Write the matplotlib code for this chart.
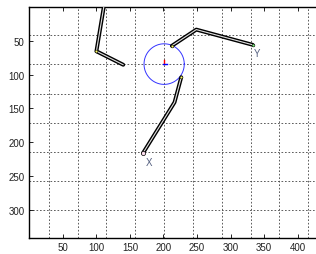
import matplotlib
matplotlib.use('Agg')
import matplotlib.pyplot as plt
import numpy as np

# stick chains (image coords, y down)
arm_left_x = [111, 100, 140]
arm_left_y = [0, 65.5, 85.5]
chain_y_x = [212.5, 249, 333]
chain_y_y = [57.5, 33.5, 56]
chain_x_x = [226.5, 216.5, 169.5]
chain_x_y = [104, 141, 216]

circle_cx = 201
circle_cy = 84.5
circle_r = 30

label_x = ['X', 178, 229]
label_y = ['Y', 340, 68]

xticks = [50, 100, 150, 200, 250, 300, 350, 400]
yticks = [50, 100, 150, 200, 250, 300]
xgrid = [29, 72, 115, 158, 201, 244, 287, 330, 373, 416]
ygrid = [42, 85, 128, 171, 214, 257, 300]

plt.rcParams['font.family'] = 'Liberation Sans'
fig = plt.figure(figsize=(3.16, 2.55), dpi=100)
# axes run past the right edge, as in the original crop
ax = fig.add_axes([0.0908, 0.0616, 0.94, 0.906])

for g in xgrid:
    ax.axvline(g, color='#444444', lw=0.6, ls=(0, (2, 2.2)), zorder=1)
for g in ygrid:
    ax.axhline(g, color='#444444', lw=0.6, ls=(0, (2, 2.2)), zorder=1)

t = np.linspace(0, 2*np.pi, 200)
ax.plot(circle_cx + circle_r*np.cos(t), circle_cy + circle_r*np.sin(t), color='#3333ff', lw=0.7, zorder=2)
ax.plot([circle_cx, circle_cx], [circle_cy, circle_cy - 6], color='red', lw=1.0, zorder=3)
ax.plot([circle_cx - 2, circle_cx + 4], [circle_cy, circle_cy], color='blue', lw=1.0, zorder=3)

for xs, ys in [(arm_left_x, arm_left_y), (chain_y_x, chain_y_y), (chain_x_x, chain_x_y)]:
    ax.plot(xs, ys, color='black', lw=2.8, solid_capstyle='round', solid_joinstyle='round', zorder=4)
    ax.plot(xs, ys, color='#e0e0e0', lw=0.8, solid_capstyle='round', zorder=5)

ax.plot(chain_x_x[-1], chain_x_y[-1], 'o', ms=3, mfc='#ffe0f0', mec='black', mew=0.5, zorder=6)
ax.plot(chain_y_x[-1], chain_y_y[-1], 'o', ms=2, mfc='#80ff80', mec='black', mew=0.4, zorder=6)
ax.plot(chain_y_x[0], chain_y_y[0], 'o', ms=2, mfc='#ffff60', mec='black', mew=0.4, zorder=6)
ax.plot(chain_x_x[0], chain_x_y[0], 'o', ms=2, mfc='#ffff60', mec='black', mew=0.4, zorder=6)
ax.plot(arm_left_x[1], arm_left_y[1], 'o', ms=2, mfc='#ffff60', mec='black', mew=0.4, zorder=6)

for lab in [label_x, label_y]:
    ax.text(lab[1], lab[2], lab[0], color='#556080', fontsize=7, ha='center', va='center')

ax.set_xlim(-1, 442)
ax.set_ylim(342, 0.5)
ax.set_xticks(xticks)
ax.set_yticks(yticks)
ax.tick_params(direction='in', length=3, width=0.6, labelsize=7, top=True, right=True, pad=3,
               labelcolor='#222222')
for s in ax.spines.values():
    s.set_linewidth(1.0)

plt.savefig('out.png', dpi=100)
